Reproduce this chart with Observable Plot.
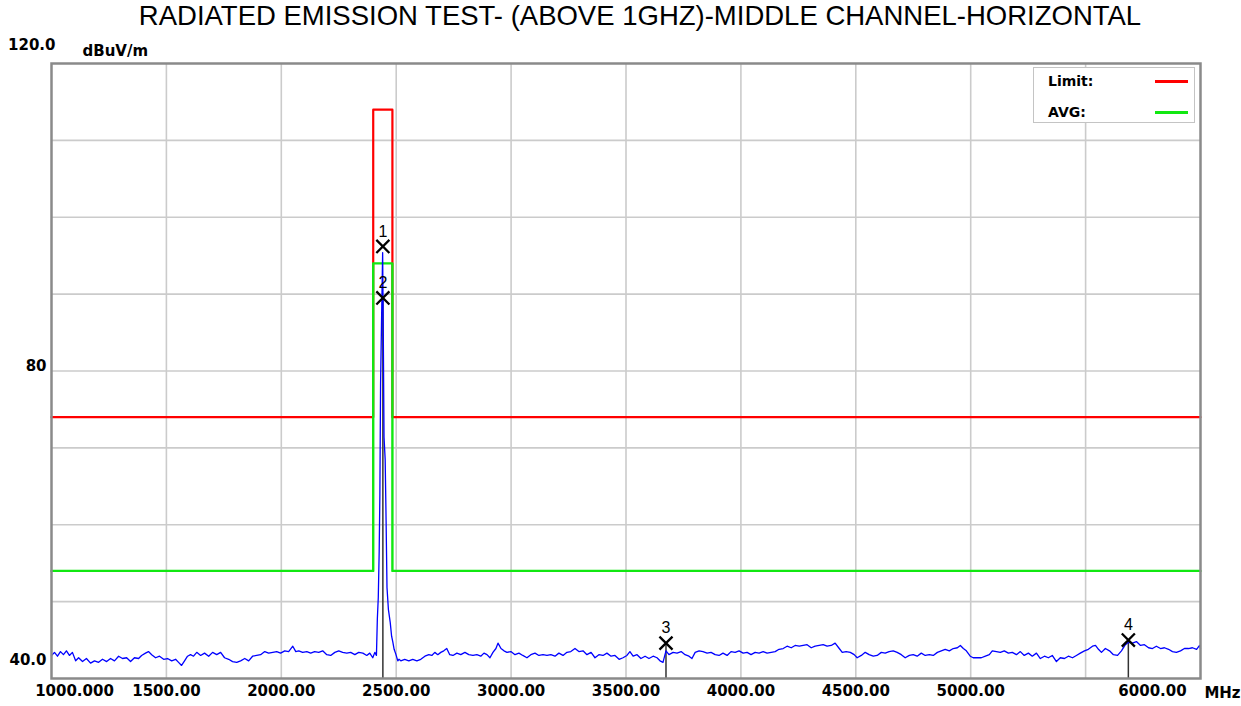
<!DOCTYPE html>
<html>
<head>
<meta charset="utf-8">
<script src="https://cdn.jsdelivr.net/npm/d3@7"></script>
<script src="https://cdn.jsdelivr.net/npm/@observablehq/plot@0.6"></script>
<style>
  html, body { margin: 0; padding: 0; background: #fff; overflow: hidden; }
  #wrap { position: relative; width: 1241px; height: 706px; }
  #title { height: 34px; line-height: 34px; font: 27.5px "Liberation Sans", Arial, sans-serif; color: #000;
           text-align: center; padding-left: 39px; white-space: nowrap; box-sizing: border-box; width: 1241px; }
  #chart svg { display: block; }
  #legend { position: absolute; left: 1033px; top: 67px; width: 162px; height: 56px; background: #fff;
            border: 1px solid #c4c4c4; box-sizing: border-box; font: bold 14px "DejaVu Sans", sans-serif; color: #000; }
  #legend .lab { position: absolute; left: 14px; line-height: 16px; }
  #legend .sw { position: absolute; left: 121px; width: 33px; height: 2.5px; }
</style>
</head>
<body>
<div id="wrap">
  <div id="title">RADIATED EMISSION TEST- (ABOVE 1GHZ)-MIDDLE CHANNEL-HORIZONTAL</div>
  <div id="chart"></div>
  <div id="legend"></div>
</div>
<script>
// ---- data ----
const yUnit = "dBuV/m";
const xUnit = "MHz";
const xTickValues = [1000, 1500, 2000, 2500, 3000, 3500, 4000, 4500, 5000, 5500, 6000];
const xTickLabels = ["1000.000", "1500.00", "2000.00", "2500.00", "3000.00", "3500.00", "4000.00", "4500.00", "5000.00", "", "6000.00"];
const yTickValues = [120, 80, 40];
const yTickLabels = ["120.0", "80", "40.0"];
const yGridValues = [50, 60, 70, 80, 90, 100, 110];

const seriesNames = ["Limit:", "AVG:"];
const seriesColors = ["#ff0000", "#11e811"];

const limitFreq = [1000, 2400, 2400, 2483.5, 2483.5, 6000];
const limitPeak = [74, 74, 114, 114, 74, 74];
const limitAvg = [54, 54, 94, 94, 54, 54];

const markerIds = ["1", "2", "3", "4"];
const markerFreq = [2442, 2442, 3674, 5686];
const markerLevel = [96.2, 89.5, 44.6, 45.0];

// measured trace [MHz, dBuV/m]
const trace = [
[1000,43.0],[1013,43.4],[1026,42.9],[1039,43.5],[1052,43.1],[1065,43.6],[1078,43.0],[1091,43.4],[1105,42.3],[1118,42.7],
[1135,42.2],[1152,42.6],[1170,42.0],[1187,42.3],[1205,42.1],[1222,42.5],[1240,42.2],[1257,42.6],[1274,42.3],[1292,42.9],
[1309,42.6],[1327,42.7],[1344,42.2],[1361,42.7],[1379,42.6],[1392,43.0],[1409,43.3],[1422,43.5],[1436,43.1],[1453,42.7],
[1470,42.9],[1488,42.5],[1505,42.6],[1523,42.3],[1540,42.5],[1553,42.1],[1566,41.7],[1579,42.3],[1592,42.9],[1605,43.1],
[1618,42.9],[1632,43.4],[1649,43.0],[1666,43.3],[1684,42.9],[1701,43.4],[1719,43.1],[1736,43.4],[1753,42.7],[1771,42.5],
[1788,42.2],[1806,42.1],[1823,42.3],[1841,42.6],[1858,42.3],[1875,42.9],[1893,43.0],[1910,43.1],[1928,43.5],[1945,43.3],
[1963,43.4],[1980,43.5],[1997,43.3],[2015,43.6],[2032,43.5],[2050,44.2],[2063,43.5],[2076,43.6],[2093,43.4],[2111,43.5],
[2128,43.3],[2145,43.5],[2163,43.4],[2180,43.6],[2198,43.1],[2215,43.0],[2233,43.4],[2250,43.6],[2267,43.4],[2285,43.3],
[2302,43.4],[2320,43.1],[2337,43.4],[2355,43.3],[2372,43.0],[2385,43.3],[2398,42.7],[2407,43.4],[2414,43.0],
[2418,47.8],[2422,50.5],[2426,56.6],[2429,64.0],[2432,78.4],[2436,86.0],[2441,95.4],[2444,84.0],[2447,71.4],[2452,68.5],
[2456,60.6],[2460,51.8],[2466,49.0],[2474,47.3],[2480,45.5],[2485,44.8],[2491,43.8],[2498,43.2],[2507,42.3],[2512,42.5],
[2520,42.3],[2537,42.5],[2555,42.3],[2572,42.5],[2590,42.3],[2607,42.5],[2625,42.9],[2642,43.1],[2655,43.0],[2668,43.4],
[2681,43.1],[2694,43.4],[2707,43.6],[2720,43.9],[2733,43.1],[2747,43.0],[2764,43.3],[2781,43.1],[2799,43.4],[2816,43.1],
[2834,43.0],[2851,43.1],[2868,42.9],[2882,43.3],[2895,43.1],[2908,42.7],[2921,43.4],[2934,43.9],[2943,44.6],[2956,43.9],
[2969,43.6],[2982,43.4],[2999,43.5],[3017,43.1],[3034,43.3],[3051,43.0],[3069,42.7],[3086,43.1],[3104,43.3],[3121,43.0],
[3139,43.1],[3156,43.0],[3173,43.1],[3191,42.9],[3208,43.3],[3226,43.0],[3243,43.4],[3260,43.5],[3278,43.9],[3295,43.5],
[3313,43.6],[3330,43.1],[3348,43.4],[3365,42.7],[3382,43.1],[3400,43.0],[3417,43.3],[3435,42.9],[3452,43.0],[3470,42.5],
[3487,42.7],[3504,43.0],[3517,43.5],[3531,42.9],[3548,43.1],[3565,42.6],[3583,42.9],[3600,42.6],[3618,42.9],[3635,42.7],
[3648,42.3],[3661,42.1],[3674,43.6],[3687,43.1],[3705,43.4],[3722,43.3],[3740,43.5],[3757,43.1],[3774,42.9],[3787,42.6],
[3801,43.4],[3818,43.6],[3835,43.5],[3853,43.3],[3870,43.4],[3888,43.1],[3905,43.0],[3922,43.3],[3940,43.0],[3957,43.5],
[3975,43.4],[3992,43.6],[4010,43.3],[4027,43.4],[4044,43.1],[4062,43.4],[4079,43.3],[4097,43.5],[4114,43.3],[4132,43.4],
[4149,43.5],[4166,43.8],[4184,43.9],[4201,44.2],[4219,44.0],[4236,44.3],[4254,44.2],[4271,44.3],[4288,44.4],[4306,44.0],
[4323,44.2],[4341,44.3],[4358,44.4],[4375,44.2],[4393,44.3],[4410,44.6],[4428,43.9],[4441,43.4],[4458,43.5],[4476,43.4],
[4493,43.1],[4506,42.7],[4524,43.0],[4541,43.4],[4558,43.1],[4576,42.9],[4593,43.0],[4611,43.4],[4628,43.3],[4645,43.5],
[4663,43.6],[4680,43.4],[4698,43.1],[4715,42.7],[4733,43.0],[4750,43.1],[4767,42.9],[4785,43.3],[4802,43.0],[4820,43.1],
[4837,43.0],[4855,43.4],[4872,43.6],[4889,43.8],[4907,43.6],[4924,43.9],[4942,44.0],[4955,44.3],[4968,43.9],[4981,43.6],
[4998,42.9],[5011,42.7],[5029,42.7],[5046,42.7],[5064,42.9],[5081,43.1],[5094,43.6],[5112,43.5],[5129,43.4],[5146,43.6],
[5164,43.3],[5181,43.4],[5199,43.1],[5216,43.5],[5233,43.0],[5251,43.3],[5268,42.9],[5286,43.3],[5303,42.6],[5321,42.9],
[5338,42.7],[5355,43.0],[5373,42.2],[5390,42.7],[5408,42.6],[5425,42.9],[5443,42.7],[5460,43.0],[5477,43.3],[5495,43.6],
[5512,43.8],[5530,44.2],[5543,44.3],[5556,43.8],[5569,43.4],[5586,43.9],[5604,43.6],[5621,43.1],[5639,43.0],[5656,43.6],
[5673,44.4],[5686,44.7],[5704,44.6],[5721,44.8],[5739,44.3],[5756,44.4],[5774,44.0],[5791,43.9],[5808,44.2],[5826,43.9],
[5843,44.0],[5861,43.8],[5878,43.5],[5895,43.4],[5913,43.6],[5930,43.9],[5948,43.9],[5965,44.0],[5983,43.8],[5996,44.3],
[6000,43.9]
];

// ---- tables built from the arrays ----
const peakLine = limitFreq.map((f, i) => ({f, v: limitPeak[i]}));
const avgLine = limitFreq.map((f, i) => ({f, v: limitAvg[i]}));
const markers = markerIds.map((id, i) => ({id, f: markerFreq[i], v: markerLevel[i]}));
const ruleMarkers = Array.from(d3.rollup(markers, g => d3.min(g, d => d.v), d => d.f), ([f, v]) => ({f, v}));
const traceData = trace.map(([f, v]) => ({f, v}));
const xLabel = new Map(xTickValues.map((v, i) => [v, xTickLabels[i]]));
const yLabel = new Map(yTickValues.map((v, i) => [v, yTickLabels[i]]));
const xFirst = xTickValues[0], xLast = xTickValues[xTickValues.length - 1];
const xMid = xTickValues.filter(v => v !== xFirst && v !== xLast && xLabel.get(v) !== "");
const xGrid = xTickValues.filter(v => v !== xFirst && v !== xLast);

const axisFont = {fontSize: 15, fontWeight: "bold", fill: "#000", tickSize: 0, label: null};

const chart = Plot.plot({
  width: 1241,
  height: 672,
  marginTop: 29,
  marginBottom: 28,
  marginLeft: 51,
  marginRight: 41,
  x: {domain: [xFirst, xLast], axis: null, label: null},
  y: {domain: [40, 120], axis: null, label: null},
  style: {background: "#fff", fontFamily: "'DejaVu Sans', sans-serif", overflow: "visible"},
  marks: [
    Plot.gridX(xGrid, {stroke: "#cbcbcb", strokeOpacity: 1, strokeWidth: 1.6}),
    Plot.gridY(yGridValues, {stroke: "#cbcbcb", strokeOpacity: 1, strokeWidth: 1.6}),
    Plot.line(peakLine, {x: "f", y: "v", stroke: seriesColors[0], strokeWidth: 2.2}),
    Plot.line(avgLine, {x: "f", y: "v", stroke: seriesColors[1], strokeWidth: 2.4}),
    Plot.ruleX(ruleMarkers, {x: "f", y1: 40, y2: "v", stroke: "#333", strokeWidth: 1.5}),
    Plot.line(traceData, {x: "f", y: "v", stroke: "#0000ff", strokeWidth: 1.3}),
    Plot.dot(markers, {x: "f", y: "v", symbol: "times", r: 6, stroke: "#000", strokeWidth: 2.3}),
    Plot.text(markers, {x: "f", y: "v", text: "id", dy: -15, fontSize: 16, fill: "#000",
      fontFamily: "'Liberation Sans', Arial, sans-serif"}),
    Plot.frame({stroke: "#8a8a8a", strokeWidth: 2.5}),
    // y axis labels
    Plot.axisY([yTickValues[0]], {...axisFont, tickPadding: 5, dx: 9, dy: -18, tickFormat: d => yLabel.get(d)}),
    Plot.axisY([yTickValues[1]], {...axisFont, tickPadding: 5, dy: -5, tickFormat: d => yLabel.get(d)}),
    Plot.axisY([yTickValues[2]], {...axisFont, tickPadding: 5, dy: -18, tickFormat: d => yLabel.get(d)}),
    Plot.text([yUnit], {frameAnchor: "top-left", text: d => d, dx: 31, dy: -18, textAnchor: "start",
      fontSize: 15, fontWeight: "bold", fill: "#000"}),
    // x axis labels
    Plot.axisX(xMid, {...axisFont, tickPadding: 7, tickFormat: d => xLabel.get(d)}),
    Plot.axisX([xFirst], {...axisFont, tickPadding: 7, dx: 23, tickFormat: d => xLabel.get(d)}),
    Plot.axisX([xLast], {...axisFont, tickPadding: 7, dx: -48, tickFormat: d => xLabel.get(d)}),
    Plot.text([xUnit], {frameAnchor: "bottom-right", text: d => d, dx: 22, dy: 15, textAnchor: "middle",
      lineAnchor: "middle", fontSize: 15, fontWeight: "bold", fill: "#000", letterSpacing: "1px"})
  ]
});
document.getElementById("chart").appendChild(chart);

// legend (inside the plot area, top right)
const legend = document.getElementById("legend");
const rowsTop = [5, 36];
seriesNames.forEach((name, i) => {
  const lab = document.createElement("div");
  lab.className = "lab";
  lab.style.top = rowsTop[i] + "px";
  lab.textContent = name;
  legend.appendChild(lab);
  const sw = document.createElement("div");
  sw.className = "sw";
  sw.style.top = (rowsTop[i] + 7) + "px";
  sw.style.background = seriesColors[i];
  legend.appendChild(sw);
});
</script>
</body>
</html>
